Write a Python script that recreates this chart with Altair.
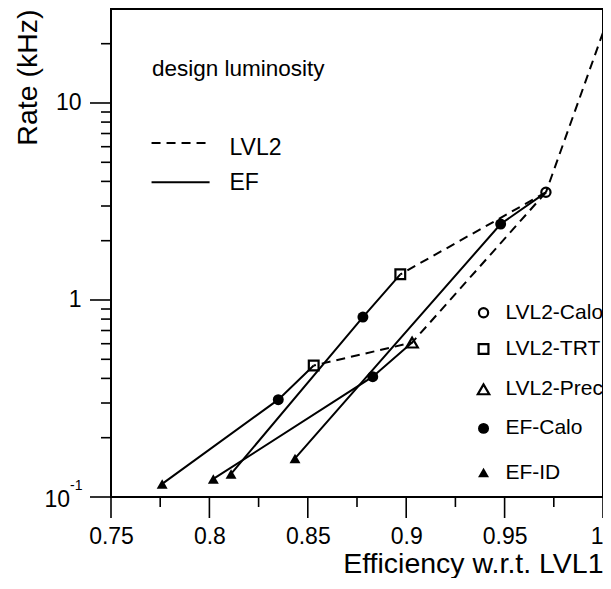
import altair as alt
import pandas as pd

# ---------------- data ----------------
lvl2_calo_eff = [0.971]
lvl2_calo_rate = [3.52]
lvl2_trt_eff = [0.897, 0.853]
lvl2_trt_rate = [1.35, 0.465]
lvl2_prec_eff = [0.903]
lvl2_prec_rate = [0.608]
ef_calo_eff = [0.948, 0.878, 0.835, 0.883]
ef_calo_rate = [2.43, 0.819, 0.312, 0.408]
ef_id_eff = [0.8435, 0.811, 0.776, 0.802]
ef_id_rate = [0.157, 0.131, 0.1165, 0.1235]
lvl2_high_eff = [1.0]
lvl2_high_rate = [22.8]

x_major_ticks = [0.75, 0.8, 0.85, 0.9, 0.95, 1.0]
x_minor_ticks = [0.775, 0.825, 0.875, 0.925, 0.975]
y_major_ticks = [0.1, 1, 10]
y_minor_ticks = [0.2, 0.3, 0.4, 0.5, 0.6, 0.7, 0.8, 0.9, 2, 3, 4, 5, 6, 7, 8, 9, 20]

legend_names = ["LVL2-Calo", "LVL2-TRT", "LVL2-Prec", "EF-Calo", "EF-ID"]
style_names = ["LVL2", "EF"]
note_text = "design luminosity"

# ---------------- layout constants (annotation placement) ----------------
FONT = "Arial"
W, H = 492, 488
MAJOR, MINOR = 21, 10
leg_sym_x = 0.9393
leg_txt_x = 0.9504
leg_rows_y = [0.861, 0.564, 0.352, 0.223, 0.133]
style_line_x = [0.7706, 0.8001]
style_txt_x = 0.8102
style_line_y = [6.27, 3.96]
style_txt_y = [5.9, 3.91]
note_x, note_y = 0.7708, 13.7

# ---------------- tables ----------------
calo = (lvl2_calo_eff[0], lvl2_calo_rate[0])
trt0 = (lvl2_trt_eff[0], lvl2_trt_rate[0])
trt1 = (lvl2_trt_eff[1], lvl2_trt_rate[1])
prec = (lvl2_prec_eff[0], lvl2_prec_rate[0])
high = (lvl2_high_eff[0], lvl2_high_rate[0])

ef_rows = []
for i, start in enumerate([calo, trt0, trt1, prec]):
    pts = [start, (ef_calo_eff[i], ef_calo_rate[i]), (ef_id_eff[i], ef_id_rate[i])]
    for j, (x, y) in enumerate(pts):
        ef_rows.append(dict(g=f"ef{i}", o=j, eff=x, rate=y))
df_ef = pd.DataFrame(ef_rows)

l2_rows = []
for i, chain in enumerate([[high, calo], [calo, trt0], [calo, prec, trt1]]):
    for j, (x, y) in enumerate(chain):
        l2_rows.append(dict(g=f"l2{i}", o=j, eff=x, rate=y))
df_l2 = pd.DataFrame(l2_rows)

pts = []
for k, xs_, ys_ in [("l2calo", lvl2_calo_eff, lvl2_calo_rate), ("l2trt", lvl2_trt_eff, lvl2_trt_rate),
                    ("l2prec", lvl2_prec_eff, lvl2_prec_rate), ("efcalo", ef_calo_eff, ef_calo_rate),
                    ("efid", ef_id_eff, ef_id_rate)]:
    for x, y in zip(xs_, ys_):
        pts.append(dict(kind=k, eff=x, rate=y))
df_pts = pd.DataFrame(pts)

kinds = ["l2calo", "l2trt", "l2prec", "efcalo", "efid"]
df_leg = pd.DataFrame(dict(kind=kinds, name=legend_names, eff=[leg_sym_x] * 5,
                           teff=[leg_txt_x] * 5, rate=leg_rows_y))
df_legall = pd.concat([df_pts, df_leg[["kind", "eff", "rate"]]], ignore_index=True)

df_style_lines = pd.DataFrame(dict(
    g=["LVL2", "LVL2", "EF", "EF"],
    eff=style_line_x * 2,
    rate=[style_line_y[0], style_line_y[0], style_line_y[1], style_line_y[1]]))
df_style_txt = pd.DataFrame(dict(name=style_names, eff=[style_txt_x] * 2, rate=style_txt_y))
df_note = pd.DataFrame(dict(name=[note_text], eff=[note_x], rate=[note_y]))
df_exp = pd.DataFrame(dict(eff=[0.75], rate=[0.1]))

df_xmaj = pd.DataFrame(dict(eff=x_major_ticks))
df_xmin = pd.DataFrame(dict(eff=x_minor_ticks))
df_ymaj = pd.DataFrame(dict(rate=y_major_ticks))
df_ymin = pd.DataFrame(dict(rate=y_minor_ticks))

# ---------------- scales & axes ----------------
xs = alt.Scale(domain=[0.75, 1.0], nice=False, zero=False)
ys = alt.Scale(type="log", domain=[0.1, 30], nice=False)

x_axis = alt.Axis(values=x_major_ticks, ticks=True, tickSize=MAJOR, tickOpacity=0, format="~g",
                  labelFont=FONT, labelFontSize=23, labelColor="black", labelPadding=7,
                  labelFlush=False, labelOverlap=False,
                  labelAlign={"condition": {"test": "datum.value >= 0.999", "value": "right"},
                              "value": "center"},
                  title="Efficiency w.r.t. LVL1", titleFont=FONT, titleFontSize=28.5,
                  titleFontWeight="normal", titleColor="black", titleAnchor="end", titlePadding=1,
                  domain=False, grid=False)
y_axis = alt.Axis(values=y_major_ticks, ticks=True, tickSize=MAJOR, tickOpacity=0,
                  labelFont=FONT, labelFontSize=23, labelColor="black", labelPadding=9, labelOverlap=False,
                  labelExpr="datum.value < 0.5 ? '' : format(datum.value, '~g')",
                  title="Rate (kHz)", titleFont=FONT, titleFontSize=28.5, titleFontWeight="normal",
                  titleColor="black", titleAnchor="end", titlePadding=13,
                  domain=False, grid=False)


def X(field="eff"):
    return alt.X(f"{field}:Q", scale=xs, axis=x_axis)


def Y():
    return alt.Y("rate:Q", scale=ys, axis=y_axis)


# ticks and frame
xt_major = alt.Chart(df_xmaj).mark_rule(color="black", strokeWidth=1.6).encode(
    x=X(), y=alt.value(H), y2=alt.value(H + MAJOR))
xt_minor = alt.Chart(df_xmin).mark_rule(color="black", strokeWidth=1.6).encode(
    x=X(), y=alt.value(H), y2=alt.value(H + MINOR))
yt_major = alt.Chart(df_ymaj).mark_rule(color="black", strokeWidth=1.6).encode(
    y=Y(), x=alt.value(0), x2=alt.value(-MAJOR))
yt_minor = alt.Chart(df_ymin).mark_rule(color="black", strokeWidth=1.6).encode(
    y=Y(), x=alt.value(0), x2=alt.value(-MINOR))
frame = alt.Chart(df_exp).mark_rect(fill="transparent", stroke="black", strokeWidth=2).encode(
    x=alt.value(0), x2=alt.value(W), y=alt.value(0), y2=alt.value(H))

lvl2_lines = alt.Chart(df_l2).mark_line(color="black", strokeWidth=2, strokeDash=[9, 6], clip=True).encode(
    x=X(), y=Y(), detail="g:N", order="o:Q")
ef_lines = alt.Chart(df_ef).mark_line(color="black", strokeWidth=2, clip=True).encode(
    x=X(), y=Y(), detail="g:N", order="o:Q")

style_lines = alt.Chart(df_style_lines).mark_line(color="black", strokeWidth=2).encode(
    x=X(), y=Y(), detail="g:N",
    strokeDash=alt.StrokeDash("g:N", scale=alt.Scale(domain=["LVL2", "EF"], range=[[9, 6], [1, 0]]),
                              legend=None))


def sym(kind, shape, filled, size):
    return alt.Chart(df_legall).transform_filter(alt.datum.kind == kind).mark_point(
        shape=shape, filled=filled, size=size, color="black", strokeWidth=2.2, opacity=1).encode(x=X(), y=Y())


symbols = [
    sym("l2calo", "circle", False, 85),
    sym("l2trt", "square", False, 95),
    sym("l2prec", "triangle-up", False, 130),
    sym("efcalo", "circle", True, 120),
    sym("efid", "triangle-up", True, 120),
]

leg_text = alt.Chart(df_leg).mark_text(font=FONT, fontSize=21, align="left", baseline="middle",
                                       color="black", clip=True).encode(
    x=X("teff"), y=Y(), text="name:N")
style_text = alt.Chart(df_style_txt).mark_text(font=FONT, fontSize=23, align="left", baseline="middle",
                                               color="black").encode(x=X(), y=Y(), text="name:N")
note = alt.Chart(df_note).mark_text(font=FONT, fontSize=22.5, align="left", baseline="alphabetic",
                                    color="black").encode(x=X(), y=Y(), text="name:N")
exp_base = alt.Chart(df_exp).mark_text(font=FONT, fontSize=23, align="right", baseline="middle",
                                       color="black", dx=-41, dy=3).encode(
    x=X(), y=Y(), text=alt.value("10"))
exp_sup = alt.Chart(df_exp).mark_text(font=FONT, fontSize=14, align="left", baseline="middle",
                                      color="black", dx=-41, dy=-11).encode(
    x=X(), y=Y(), text=alt.value("-1"))

chart = alt.layer(
    lvl2_lines, ef_lines, style_lines, *symbols, leg_text, style_text, note, exp_base, exp_sup,
    xt_major, xt_minor, yt_major, yt_minor, frame
).properties(
    width=W, height=H,
    padding={"left": 103, "top": 1, "right": 0, "bottom": 81},
    autosize=alt.AutoSizeParams(type="none"),
).configure_view(strokeWidth=0)

chart.save("out.html", embed_options={"renderer": "svg", "actions": False})
